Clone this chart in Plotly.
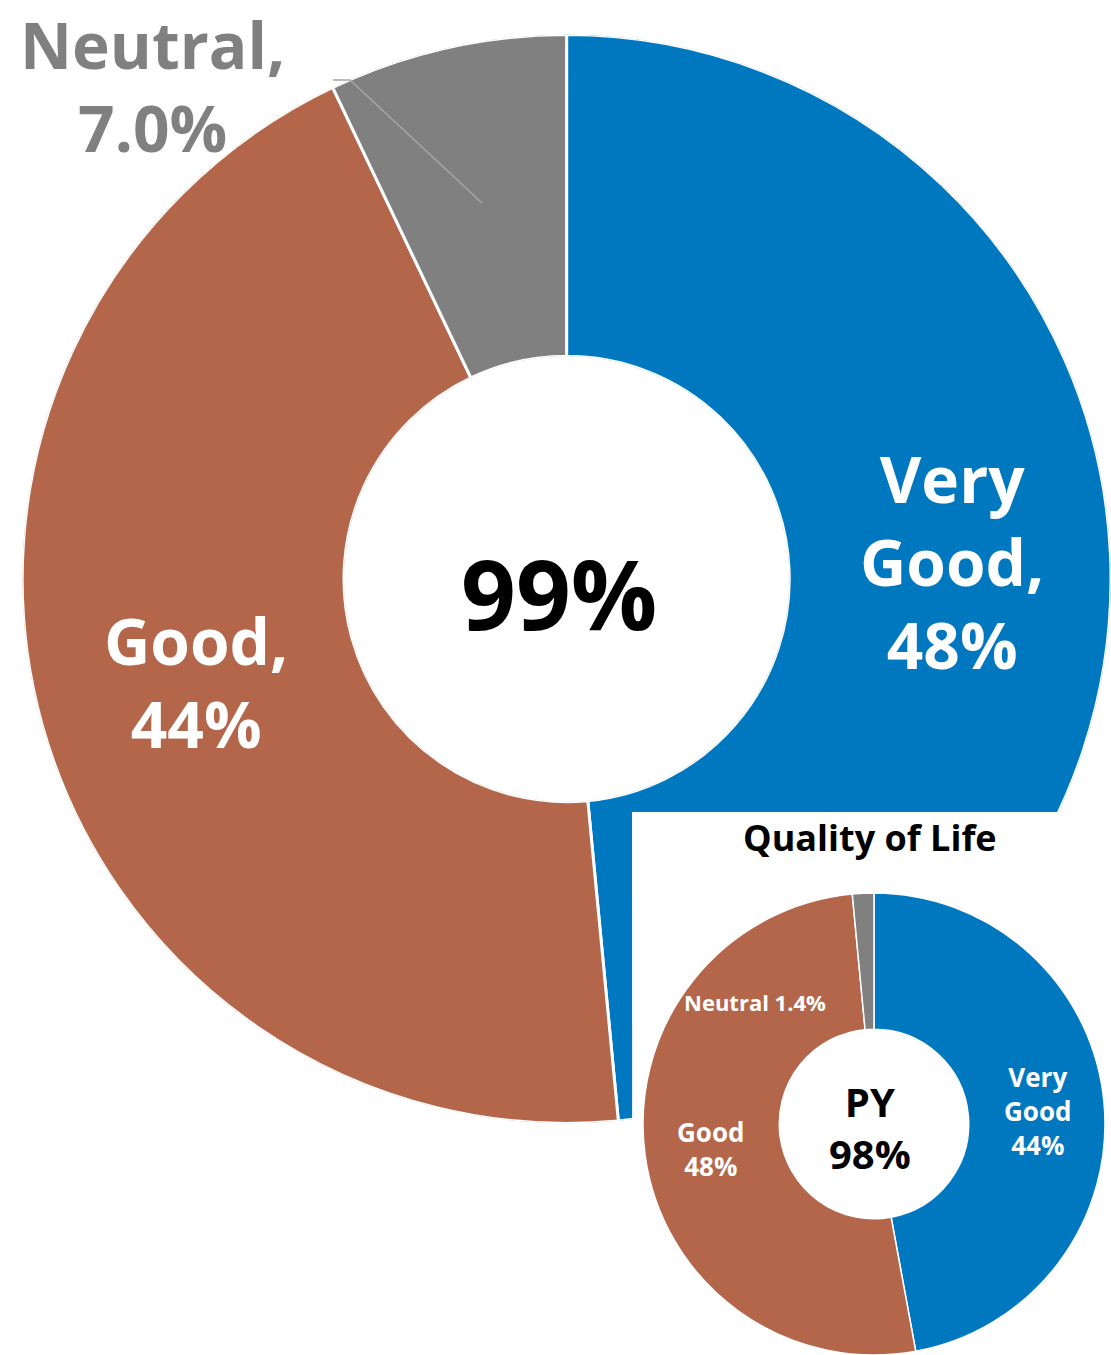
import plotly.graph_objects as go

W, H = 1111, 1355

# ---------------- data ----------------
categories = ["Very Good", "Good", "Neutral"]
main_values = [48, 44, 7.0]
main_pct_text = ["48%", "44%", "7.0%"]
main_center_text = "99%"

py_values = [44, 48, 1.4]
py_pct_text = ["44%", "48%", "1.4%"]
py_center_label = "PY"
py_center_text = "98%"
inset_title = "Quality of Life"

colors = ["#0078BF", "#B4664A", "#808080"]
FONT = "Open Sans"


def px(x, y):
    return x / W, 1 - y / H


# angular geometry of the main ring, derived from the values
total = sum(main_values)
spans = [v / total * 360 for v in main_values]
starts = [sum(spans[:i]) for i in range(len(spans))]
mids = [s + w / 2 for s, w in zip(starts, spans)]

fig = go.Figure()

# main donut (polar layer)
fig.add_trace(go.Barpolar(
    theta=mids, r=[1] * len(main_values), width=spans,
    marker=dict(color=colors, line=dict(color="white", width=3)),
    hoverinfo="skip", showlegend=False, subplot="polar",
))

# white inset panel (funnelarea layer sits between polar and pie layers)
fig.add_trace(go.Funnelarea(
    values=[1], labels=["panel"],
    marker=dict(colors=["white"], line=dict(color="white", width=0)),
    textinfo="none", hoverinfo="skip", showlegend=False,
    baseratio=1, aspectratio=543 / 479,
    domain=dict(x=[632 / W, 1], y=[0, 543 / H]),
))

# inset donut (previous year)
cx, cy, r = 874, 1124, 231
fig.add_trace(go.Pie(
    values=py_values, labels=categories,
    marker=dict(colors=colors, line=dict(color="white", width=1.5)),
    hole=0.41, direction="clockwise", sort=False, rotation=0,
    textinfo="none", hoverinfo="skip", showlegend=False,
    domain=dict(x=[(cx - r) / W, (cx + r) / W], y=[0, 2 * r / H]),
))


def ann(text, x, y, size, color):
    ax, ay = px(x, y)
    return dict(text=text, x=ax, y=ay, xref="paper", yref="paper",
                showarrow=False, xanchor="center", yanchor="middle",
                align="center",
                font=dict(family=FONT, size=size, color=color, weight=700))


main_labels = [
    categories[0].replace(" ", "<br>") + ",<br>" + main_pct_text[0],
    categories[1] + ",<br>" + main_pct_text[1],
    categories[2] + ",<br>" + main_pct_text[2],
]
py_labels = [
    categories[0].replace(" ", "<br>") + "<br>" + py_pct_text[0],
    categories[1] + "<br>" + py_pct_text[1],
    categories[2] + " " + py_pct_text[2],
]

annotations = [
    ann(main_labels[0], 952, 562, 64, "white"),
    ann(main_labels[1], 196, 682, 64, "white"),
    ann(main_labels[2], 152, 86, 64, "#808080"),
    ann(main_center_text, 559, 592, 96, "black"),
    ann(inset_title, 870, 837, 36, "black"),
    ann(py_center_label + "<br>" + py_center_text, 870, 1127, 40, "black"),
    ann(py_labels[0], 1037, 1111, 26, "white"),
    ann(py_labels[1], 710, 1149, 26, "white"),
    ann(py_labels[2], 755, 1002, 22, "white"),
]

# faint leader line inside the neutral slice
p = [px(333, 80), px(350, 80), px(482, 203)]
path = "M {} {} L {} {} L {} {}".format(p[0][0], p[0][1], p[1][0], p[1][1], p[2][0], p[2][1])

fig.update_layout(
    width=W, height=H,
    margin=dict(l=0, r=0, t=0, b=0),
    paper_bgcolor="white", plot_bgcolor="white",
    showlegend=False,
    polar=dict(
        domain=dict(x=[0.02, 1], y=[0.1709, 0.9745]),
        hole=0.409, bargap=0,
        bgcolor="rgba(0,0,0,0)",
        radialaxis=dict(visible=False, range=[0, 1]),
        angularaxis=dict(visible=False, rotation=90, direction="clockwise",
                         thetaunit="degrees"),
    ),
    annotations=annotations,
    shapes=[dict(type="path", path=path, xref="paper", yref="paper",
                 line=dict(color="#A6A6A6", width=1.5), layer="above")],
)

fig.write_html(
    "out.html",
    config={"displayModeBar": False},
    post_script="document.body.style.margin='0';"
                "document.documentElement.style.overflow='hidden';",
)
